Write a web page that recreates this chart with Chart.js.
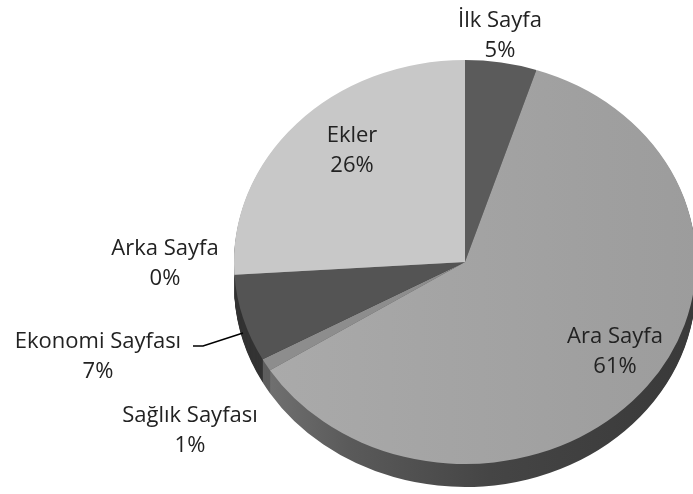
<!DOCTYPE html>
<html>
<head>
<meta charset="utf-8">
<script src="https://cdn.jsdelivr.net/npm/chart.js@4/dist/chart.umd.min.js"></script>
<style>
  html, body { margin: 0; padding: 0; background: #fff; overflow: hidden; }
  #wrap { position: absolute; left: 0; top: 0; width: 720px; height: 494px; }
</style>
</head>
<body>
<div id="wrap"><canvas id="pie" width="720" height="494"></canvas></div>
<script>
const labels = ['İlk Sayfa', 'Ara Sayfa', 'Sağlık Sayfası', 'Ekonomi Sayfası', 'Arka Sayfa', 'Ekler'];
const values = [5, 61, 1, 7, 0, 26];

const topColors = ['#5b5b5b', '#a3a3a3', '#8d8d8d', '#545454', '#666666', '#c8c8c8'];
const sideColors = ['#3a3a3a', null, '#5e5e5e', '#333333', '#444444', '#8a8a8a'];

// where Excel put each label (center x, baseline of first line)
const labelLayout = [
  { x: 500, y: 27 },
  { x: 615, y: 343 },
  { x: 190, y: 422 },
  { x: 98, y: 348 },
  { x: 165, y: 255 },
  { x: 352, y: 142 }
];

const tilt = { centerY: 262, ry: 202, depth: 23 };

function project(ctx, arc, off) {
  const k = tilt.ry / arc.outerRadius;
  ctx.translate(arc.x, tilt.centerY + off);
  ctx.scale(1, k);
  ctx.translate(-arc.x, -arc.y);
}

function araSide(ctx) {
  const g = ctx.createLinearGradient(232, 0, 700, 0);
  g.addColorStop(0, '#7a7a7a');
  g.addColorStop(0.25, '#5a5a5a');
  g.addColorStop(0.55, '#454545');
  g.addColorStop(1, '#393939');
  return g;
}

const tiltPlugin = {
  id: 'tilt',
  beforeDatasetsDraw(chart) {
    const ctx = chart.ctx;
    const arcs = chart.getDatasetMeta(0).data;
    for (let d = tilt.depth; d >= 1; d--) {
      ctx.save();
      project(ctx, arcs[0], d);
      arcs.forEach((a, i) => {
        if (!values[i]) return;
        ctx.beginPath();
        ctx.moveTo(a.x, a.y);
        ctx.arc(a.x, a.y, a.outerRadius, a.startAngle, a.endAngle);
        ctx.closePath();
        ctx.fillStyle = sideColors[i] || araSide(ctx);
        ctx.fill();
      });
      ctx.restore();
    }
    ctx.save();
    project(ctx, arcs[0], 0);
  },
  afterDatasetsDraw(chart) {
    chart.ctx.restore();
  },
  afterDraw(chart) {
    const ctx = chart.ctx;
    ctx.save();
    ctx.strokeStyle = '#000';
    ctx.lineWidth = 1.5;
    ctx.beginPath();
    ctx.moveTo(193, 346);
    ctx.lineTo(203, 346);
    ctx.lineTo(243, 333);
    ctx.stroke();

    ctx.fillStyle = '#222';
    ctx.font = '22px "Open Sans"';
    ctx.textAlign = 'center';
    ctx.textBaseline = 'alphabetic';
    const total = values.reduce((s, v) => s + v, 0);
    labels.forEach((l, i) => {
      const p = labelLayout[i];
      ctx.fillText(l, p.x, p.y);
      ctx.fillText(Math.round(values[i] / total * 100) + '%', p.x, p.y + 30);
    });
    ctx.restore();
  }
};

new Chart(document.getElementById('pie'), {
  type: 'pie',
  data: {
    labels: labels,
    datasets: [{
      data: values,
      borderWidth: 0,
      backgroundColor: (c) => {
        if (c.dataIndex !== 1) return topColors[c.dataIndex];
        const g = c.chart.ctx.createLinearGradient(232, 0, 700, 0);
        g.addColorStop(0, '#ababab');
        g.addColorStop(1, '#9c9c9c');
        return g;
      }
    }]
  },
  options: {
    responsive: false,
    animation: false,
    events: [],
    layout: { padding: { left: 234, right: 24, top: 16, bottom: 16 } },
    plugins: { legend: { display: false }, tooltip: { enabled: false } }
  },
  plugins: [tiltPlugin]
});
</script>
</body>
</html>
